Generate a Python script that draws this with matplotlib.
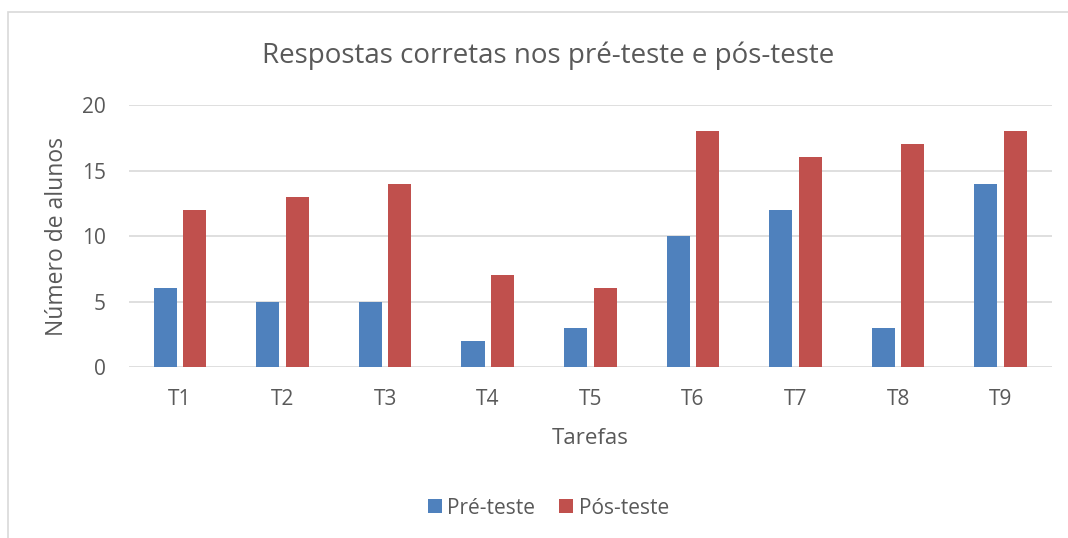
import numpy as np
import matplotlib.pyplot as plt
from matplotlib.patches import Rectangle

# data
tarefas = ["T1", "T2", "T3", "T4", "T5", "T6", "T7", "T8", "T9"]
pre_teste = [6, 5, 5, 2, 3, 10, 12, 3, 14]
pos_teste = [12, 13, 14, 7, 6, 18, 16, 17, 18]

blue = "#4f81bd"
red = "#c0504d"
txt = "#595959"
grid = "#d9d9d9"

plt.rcParams["font.family"] = ["Open Sans", "DejaVu Sans"]

fig = plt.figure(figsize=(10.68, 5.38), dpi=100)
ax = fig.add_axes([0.1205, 0.3178, 0.8645, 0.487])

# chart area frame (cropped on right and bottom)
fig.patches.append(Rectangle((8 / 1068, -0.1), 1.2, 1.1 - 12 / 538,
                             transform=fig.transFigure, fill=False,
                             edgecolor=grid, linewidth=1.2))

x = np.arange(len(tarefas))
w = 0.225
off = 0.144
ax.bar(x - off, pre_teste, w, color=blue, label="Pré-teste", zorder=3)
ax.bar(x + off, pos_teste, w, color=red, label="Pós-teste", zorder=3)

ax.set_xlim(-0.5, len(tarefas) - 0.5)
ax.set_ylim(0, 20)
ax.set_yticks([0, 5, 10, 15, 20])
ax.set_xticks(x)
ax.set_xticklabels(tarefas)
ax.yaxis.grid(True, color=grid, linewidth=1.2, zorder=0)
for s in ax.spines.values():
    s.set_visible(False)
ax.tick_params(length=0, labelsize=15, colors=txt)
ax.tick_params(axis="x", pad=16)
ax.tick_params(axis="y", pad=16.5)

fig.text(548 / 1068, 1 - 56 / 538, "Respostas corretas nos pré-teste e pós-teste",
         fontsize=20, color=txt, ha="center", va="center")
ax.set_xlabel("Tarefas", fontsize=16, color=txt, labelpad=13)
ax.set_ylabel("Número de alunos", fontsize=16.5, color=txt, labelpad=9)

leg = fig.legend(loc="center", bbox_to_anchor=(548.5 / 1068, 1 - 508 / 538),
                 ncol=2, frameon=False, fontsize=15, handlelength=0.67,
                 handleheight=0.67, handletextpad=0.25, columnspacing=1.15)
for t in leg.get_texts():
    t.set_color(txt)

fig.savefig("out.png", dpi=100, facecolor="white")
